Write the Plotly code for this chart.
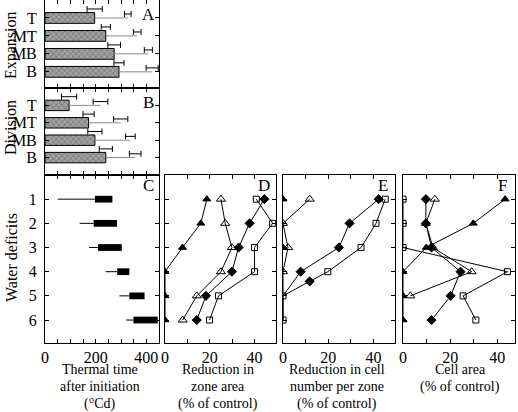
import plotly.graph_objects as go

W, H = 518, 412

# ---------------- data ----------------
zones = ["T", "MT", "MB", "B"]
zone_pos = [1, 2, 3, 4]

exp_end = [196, 240, 273, 292]
exp_err = [30, 18, 25, 20]
exp_end2 = [327, 364, 408, 423]
exp_err2 = [13, 15, 16, 24]

div_end = [95, 172, 197, 240]
div_err = [30, 22, 28, 26]
div_end2 = [219, 299, 337, 356]
div_err2 = [29, 28, 19, 23]

deficits = [1, 2, 3, 4, 5, 6]
deficit_labels = ["1", "2", "3", "4", "5", "6"]
c_line_start = [50, 137, 174, 239, 294, 320]
c_bar_start = [197, 192, 209, 285, 333, 349]
c_bar_end = [266, 284, 303, 333, 393, 445]

d_filled_tri = [18.7, 16, 7.8, 0, 0, 0]
d_open_tri = [25, 26.9, 29.9, 25, 14.2, 7.9]
d_diamond = [44.4, 37.8, 32.9, 29.9, 18.3, 14.2]
d_square = [40.8, 48.1, 40, 40, 23.9, 19.9]

e_filled_tri = [0, None, 0, None, None, None]
e_open_tri = [11.8, 0, 2.2, 0, 0, 0]
e_diamond = [42.3, 29.4, 24.7, 7.8, 0, None]
e_square_rows = [1, 2, 3, 4, 4.4, 5, 6]
e_square = [45.2, 41.1, 34.5, 19.8, 11.8, 0, 0]
e_extra_diamond_row = [4.4]
e_extra_diamond = [11.8]

f_filled_tri = [43.3, 29.8, 9.9, 0, 0, 0]
f_open_tri = [13.5, 9.7, 12.7, 29.1, 3.1, None]
f_diamond = [9.7, 9.7, 12.1, 24.4, 20.2, 12.1]
f_square = [0, 0, 0, 44.3, 25.5, 30.9]

thermal_ticks = [0, 50, 100, 150, 200, 250, 300, 350, 400]
thermal_labels = ["0", "", "", "", "200", "", "", "", "400"]
pct_ticks = [0, 10, 20, 30, 40]
pct_labels = ["0", "", "20", "", "40"]

# ---------------- helpers ----------------
FONT = "Liberation Serif"


def dx(px0, px1):
    return [px0 / W, px1 / W]


def dy(top, bottom):
    return [1 - bottom / H, 1 - top / H]


axis_common = dict(showline=True, linecolor="black", linewidth=1, mirror="ticks",
                   ticks="inside", ticklen=4, tickcolor="black", tickwidth=1,
                   showgrid=False, zeroline=False, automargin=False,
                   tickfont=dict(family=FONT, size=16, color="black"))

fig = go.Figure()

# ---- Panels A & B (bars) ----
def bar_panel(xa, ya, ends, errs, ends2, errs2):
    fig.add_trace(go.Bar(x=ends, y=zone_pos, orientation="h", width=0.6,
                         marker=dict(color="#a0a0a0", line=dict(color="black", width=1),
                                     pattern=dict(shape="x", fgcolor="#505050", size=4, solidity=0.35)),
                         xaxis=xa, yaxis=ya, showlegend=False))
    lx, ly = [], []
    for p, a, b in zip(zone_pos, ends, ends2):
        lx += [a, b, None]
        ly += [p, p, None]
    fig.add_trace(go.Scatter(x=lx, y=ly, mode="lines", line=dict(color="#8a8a8a", width=1),
                             xaxis=xa, yaxis=ya, showlegend=False))
    fig.add_trace(go.Scatter(x=ends, y=[p - 0.5 for p in zone_pos], mode="markers",
                             marker=dict(size=1, color="rgba(0,0,0,0)"),
                             error_x=dict(type="data", array=errs, color="black", thickness=1, width=3),
                             xaxis=xa, yaxis=ya, showlegend=False))
    fig.add_trace(go.Scatter(x=ends2, y=[p - 0.22 for p in zone_pos], mode="markers",
                             marker=dict(size=1, color="rgba(0,0,0,0)"),
                             error_x=dict(type="data", array=errs2, color="black", thickness=1, width=3),
                             xaxis=xa, yaxis=ya, showlegend=False))


bar_panel("x", "y", exp_end, exp_err, exp_end2, exp_err2)
bar_panel("x2", "y2", div_end, div_err, div_end2, div_err2)

# ---- Panel C ----
lx, ly = [], []
for r, s, e in zip(deficits, c_line_start, c_bar_start):
    lx += [s, e, None]
    ly += [r, r, None]
fig.add_trace(go.Scatter(x=lx, y=ly, mode="lines", line=dict(color="black", width=1),
                         xaxis="x3", yaxis="y3", showlegend=False))
fig.add_trace(go.Bar(x=[e - s for s, e in zip(c_bar_start, c_bar_end)], base=c_bar_start,
                     y=deficits, orientation="h", width=0.28,
                     marker=dict(color="black", line=dict(width=0)),
                     xaxis="x3", yaxis="y3", showlegend=False))

# ---- Panels D, E, F ----
def series(xa, ya, xs, ys, symbol, size, mode="lines+markers"):
    fig.add_trace(go.Scatter(x=xs, y=ys, mode=mode,
                             line=dict(color="black", width=1),
                             marker=dict(symbol=symbol, size=size, color="black", opacity=1,
                                         line=dict(color="black", width=1)),
                             connectgaps=False, xaxis=xa, yaxis=ya, showlegend=False))


for xa, ya, ft, ot, dm, sq in [("x4", "y4", d_filled_tri, d_open_tri, d_diamond, d_square),
                              ("x6", "y6", f_filled_tri, f_open_tri, f_diamond, f_square)]:
    series(xa, ya, ft, deficits, "triangle-up", 7)
    series(xa, ya, dm, deficits, "diamond", 7)
    series(xa, ya, sq, deficits, "square-open", 6)
    series(xa, ya, ot, deficits, "triangle-up-open", 8)

# E
series("x5", "y5", e_filled_tri, deficits, "triangle-up", 7)
series("x5", "y5", e_diamond, deficits, "diamond", [7, 7, 7, 7, 0, 0])
series("x5", "y5", e_square, e_square_rows, "square-open", [6, 6, 6, 6, 0, 6, 6])
series("x5", "y5", e_extra_diamond, e_extra_diamond_row, "diamond", 7, mode="markers")
series("x5", "y5", e_open_tri, deficits, "triangle-up-open", [8, 8, 8, 8, 0, 0])

# ---------------- axes ----------------
xAB = dx(45, 159)
lay = dict(
    xaxis=dict(axis_common, domain=xAB, range=[0, 450], tickvals=thermal_ticks, showticklabels=False, anchor="y"),
    yaxis=dict(axis_common, domain=dy(0, 88), range=[4.9, 0], tickvals=zone_pos, ticktext=zones,
               ticklabelstandoff=4, anchor="x"),
    xaxis2=dict(axis_common, domain=xAB, range=[0, 450], tickvals=thermal_ticks, showticklabels=False, anchor="y2"),
    yaxis2=dict(axis_common, domain=dy(88, 175), range=[5, 0], tickvals=zone_pos, ticktext=zones,
                ticklabelstandoff=4, anchor="x2"),
    xaxis3=dict(axis_common, domain=xAB, range=[0, 450], tickvals=thermal_ticks, ticktext=thermal_labels, anchor="y3"),
    yaxis3=dict(axis_common, domain=dy(175, 343), range=[6.95, 0], tickvals=deficits, ticktext=deficit_labels,
                ticklabelstandoff=4, anchor="x3"),
)
for i, (x0, x1, xr) in zip([4, 5, 6], [(165, 276, 49.6), (283, 395, 49.5), (403, 515, 47.5)]):
    lay[f"xaxis{i}"] = dict(axis_common, domain=dx(x0, x1), range=[0, xr], tickvals=pct_ticks,
                            ticktext=pct_labels, anchor=f"y{i}")
    lay[f"yaxis{i}"] = dict(axis_common, domain=dy(175, 343), range=[6.95, 0], tickvals=deficits,
                            showticklabels=False, anchor=f"x{i}")

# ---------------- annotations ----------------
ann = []


def text(x, y, s, size=14, angle=0):
    ann.append(dict(x=x / W, y=1 - y / H, xref="paper", yref="paper", text=s, showarrow=False,
                    xanchor="center", yanchor="middle", textangle=angle, borderpad=0,
                    font=dict(family=FONT, size=size, color="black")))


for lbl, (x, y) in zip(["A", "B", "C", "D", "E", "F"],
                       [(148, 15), (148, 102), (148, 185), (264, 185), (383, 185), (502, 185)]):
    text(x, y, lbl, size=17)

text(11, 45, "Expansion", 16, -90)
text(11, 128, "Division", 16, -90)
text(11, 258, "Water deficits", 16, -90)

text(100, 369, "Thermal time")
text(100, 386.5, "after initiation")
text(100, 404, "(°Cd)")
text(218, 369, "Reduction in")
text(218, 386.5, "zone area")
text(218, 404, "(% of control)")
text(337, 369, "Reduction in cell")
text(337, 386.5, "number per zone")
text(337, 404, "(% of control)")
text(460, 369, "Cell area")
text(460, 386.5, "(% of control)")

fig.update_layout(width=W, height=H, margin=dict(l=0, r=0, t=0, b=0, autoexpand=False),
                  paper_bgcolor="white", plot_bgcolor="white", barmode="overlay",
                  annotations=ann, font=dict(family=FONT, color="black"), **lay)

fig.write_html("out.html", config={"displayModeBar": False},
               post_script="document.body.style.margin='0';document.body.style.padding='0';")
